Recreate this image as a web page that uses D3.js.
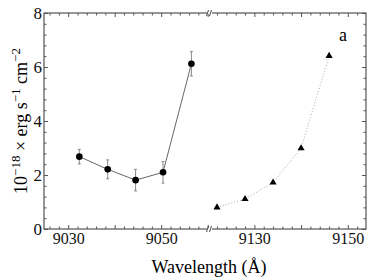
<!DOCTYPE html>
<html>
<head>
<meta charset="utf-8">
<script src="https://cdn.jsdelivr.net/npm/d3@7"></script>
<style>
  body { margin: 0; background: #fff; }
  text { font-family: "Liberation Serif", "DejaVu Serif", serif; }
</style>
</head>
<body>
<svg id="chart" width="374" height="279"></svg>
<script>
// series a - circles with error bars (left panel)
var wlCirc = [9032.4, 9038.5, 9044.5, 9050.4, 9056.5];
var fluxCirc = [2.68, 2.21, 1.81, 2.10, 6.12];
var errCirc = [0.27, 0.35, 0.40, 0.40, 0.45];

// series b - triangles (right panel)
var wlTri = [9122, 9128, 9134, 9140, 9146];
var fluxTri = [0.80, 1.11, 1.72, 2.99, 6.41];

var xLabelsLeft = [9030, 9050];
var xLabelsRight = [9130, 9150];
var yLabels = [0, 2, 4, 6, 8];

// note: "top" clashes with window.top, so use plot* names
var plotL = 44, plotR = 366, plotT = 13, plotB = 229, brk = 210;

var svg = d3.select("#chart");

var xL = d3.scaleLinear().domain([9024.8, 9060.5]).range([plotL, brk]);
var xR = d3.scaleLinear().domain([9120.5, 9153.9]).range([brk, plotR]);
var y = d3.scaleLinear().domain([0, 8]).range([plotB, plotT]);

// frame
svg.append("rect")
    .attr("x", plotL).attr("y", plotT)
    .attr("width", plotR - plotL).attr("height", plotB - plotT)
    .attr("fill", "none").attr("stroke", "#333").attr("stroke-width", 1);

// draw ticks for one piece of the x axis
function xTicks(scale, labels, lo, hi) {
    var major = d3.range(Math.ceil(lo / 10) * 10, hi, 10);
    var minor = d3.range(Math.ceil(lo / 2) * 2, hi, 2).filter(function(d) { return d % 10 != 0; });

    var gb = svg.append("g").attr("class", "xbot").attr("transform", "translate(0," + plotB + ")");
    gb.call(d3.axisBottom(scale).tickValues(major).tickSize(-4).tickPadding(4)
        .tickFormat(function(d) { return labels.includes(d) ? d : ""; }));
    gb.append("g").call(d3.axisBottom(scale).tickValues(minor).tickSize(-2.5).tickFormat(""));

    var gt = svg.append("g").attr("transform", "translate(0," + plotT + ")");
    gt.call(d3.axisTop(scale).tickValues(major).tickSize(-4).tickFormat(""));
    gt.append("g").call(d3.axisTop(scale).tickValues(minor).tickSize(-2.5).tickFormat(""));
}
xTicks(xL, xLabelsLeft, 9024.8, 9060.5);
xTicks(xR, xLabelsRight, 9120.5, 9153.9);

var yMinor = d3.range(0, 8.01, 0.4).filter(function(d) { return Math.abs(d / 2 - Math.round(d / 2)) > 0.01; });

var gl = svg.append("g").attr("transform", "translate(" + plotL + ",0)");
gl.call(d3.axisLeft(y).tickValues(yLabels).tickSize(-4).tickPadding(2));
gl.append("g").call(d3.axisLeft(y).tickValues(yMinor).tickSize(-2.5).tickFormat(""));

var gr = svg.append("g").attr("transform", "translate(" + plotR + ",0)");
gr.call(d3.axisRight(y).tickValues(yLabels).tickSize(-4).tickFormat(""));
gr.append("g").call(d3.axisRight(y).tickValues(yMinor).tickSize(-2.5).tickFormat(""));

svg.selectAll(".domain").remove();
svg.selectAll(".tick line").attr("stroke", "#555");
svg.selectAll(".tick text").attr("font-family", "Liberation Serif").attr("fill", "#111");
gl.selectAll(".tick text").attr("font-size", 17);
svg.selectAll(".xbot .tick text").attr("font-size", 16);

// axis break marks
[plotT, plotB].forEach(function(yy) {
    svg.append("rect").attr("x", brk - 3).attr("y", yy - 1).attr("width", 5).attr("height", 2).attr("fill", "#fff");
    [-2.5, 0.5].forEach(function(o) {
        svg.append("line")
            .attr("x1", brk + o - 1).attr("y1", yy + 3)
            .attr("x2", brk + o + 1).attr("y2", yy - 3)
            .attr("stroke", "#333").attr("stroke-width", 0.9);
    });
});

// circles series
var circData = wlCirc.map(function(w, i) { return { w: w, f: fluxCirc[i], e: errCirc[i] }; });

svg.append("path")
    .datum(circData)
    .attr("fill", "none").attr("stroke", "#666").attr("stroke-width", 1)
    .attr("d", d3.line().x(function(d) { return xL(d.w); }).y(function(d) { return y(d.f); }));

var eb = svg.append("g").attr("stroke", "#888").attr("stroke-width", 1);
circData.forEach(function(d) {
    var cx = xL(d.w);
    eb.append("line").attr("x1", cx).attr("x2", cx).attr("y1", y(d.f - d.e)).attr("y2", y(d.f + d.e));
    eb.append("line").attr("x1", cx - 1.5).attr("x2", cx + 1.5).attr("y1", y(d.f - d.e)).attr("y2", y(d.f - d.e));
    eb.append("line").attr("x1", cx - 1.5).attr("x2", cx + 1.5).attr("y1", y(d.f + d.e)).attr("y2", y(d.f + d.e));
});

svg.append("g").selectAll("circle")
    .data(circData)
    .enter().append("circle")
    .attr("cx", function(d) { return xL(d.w); })
    .attr("cy", function(d) { return y(d.f); })
    .attr("r", 3.3)
    .attr("fill", "#000");

// triangles series
var triData = wlTri.map(function(w, i) { return { w: w, f: fluxTri[i] }; });

svg.append("path")
    .datum(triData)
    .attr("fill", "none").attr("stroke", "#aaa").attr("stroke-width", 1)
    .attr("stroke-dasharray", "1,2")
    .attr("d", d3.line().x(function(d) { return xR(d.w); }).y(function(d) { return y(d.f); }));

svg.append("g").selectAll("path")
    .data(triData)
    .enter().append("path")
    .attr("transform", function(d) { return "translate(" + xR(d.w) + "," + y(d.f) + ")"; })
    .attr("d", d3.symbol().type(d3.symbolTriangle).size(22))
    .attr("fill", "#000");

// panel label
svg.append("text")
    .attr("x", 343).attr("y", 41)
    .attr("text-anchor", "middle")
    .attr("font-size", 18)
    .text("a");

// x axis title
svg.append("text")
    .attr("x", 209).attr("y", 273)
    .attr("text-anchor", "middle")
    .attr("font-size", 18)
    .text("Wavelength (Å)");

// y axis title with superscripts
var yt = svg.append("text")
    .attr("transform", "translate(27,121) rotate(-90)")
    .attr("text-anchor", "middle")
    .attr("font-size", 18);
yt.append("tspan").text("10");
yt.append("tspan").attr("font-size", 13).attr("dy", -7).text("−18");
yt.append("tspan").attr("dy", 7).text(" × erg s");
yt.append("tspan").attr("font-size", 13).attr("dy", -7).text("−1");
yt.append("tspan").attr("dy", 7).text(" cm");
yt.append("tspan").attr("font-size", 13).attr("dy", -7).text("−2");
</script>
</body>
</html>
